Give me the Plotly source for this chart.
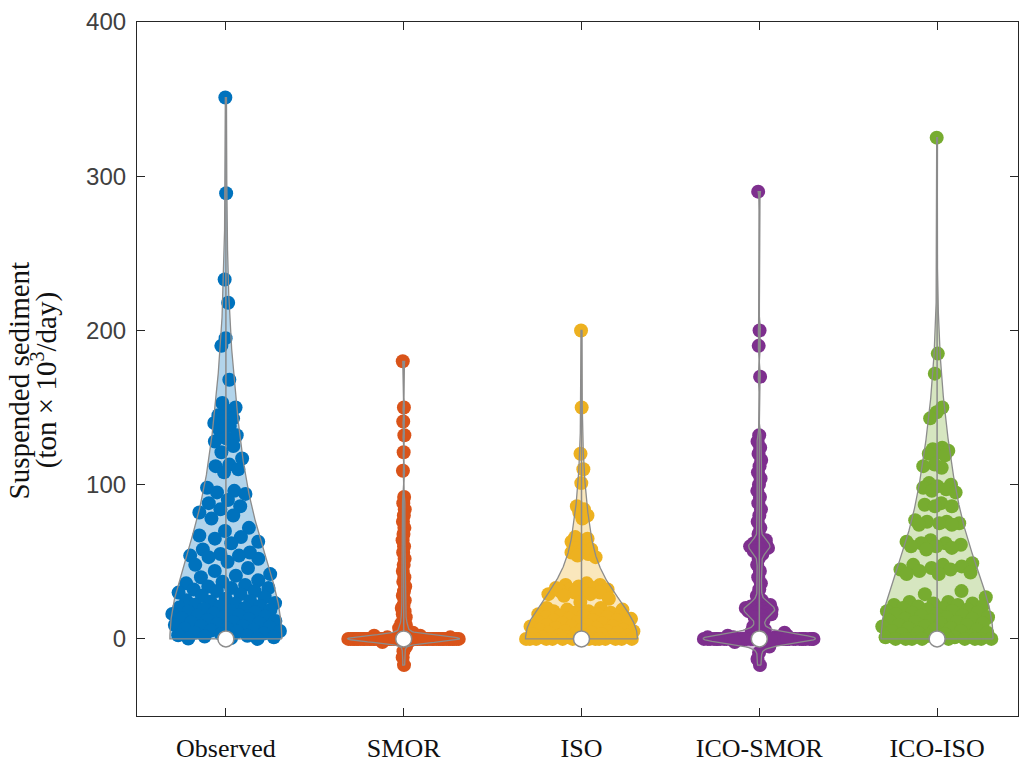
import numpy as np
import plotly.graph_objects as go

categories = ["Observed", "SMOR", "ISO", "ICO-SMOR", "ICO-ISO"]

observed = [351, 289, 233, 218, 195, 190, 168,
            153, 150, 148, 145, 143, 141, 140, 138, 135, 132, 130,
            128, 125, 121, 117, 113, 112, 110, 108,
            98, 96, 95, 94, 90, 88, 86, 84, 82, 80,
            78, 72, 70, 67, 66, 65, 63, 62,
            58, 56, 55, 54, 54, 53, 52, 50, 48, 46, 44, 42, 41,
            40, 38, 37, 36, 35, 34, 33, 33, 32, 31, 31, 30, 29, 28, 27, 26, 25,
            24.6, 24.1, 23.2, 22.8, 22.1, 21.4, 21.0, 20.3, 19.8, 19.5, 18.7, 18.2,
            17.6, 17.1, 16.5, 16.2, 15.4, 15.0, 14.3, 13.9, 13.2, 12.8, 12.1, 11.6,
            11.0, 10.7, 10.1, 9.6, 9.0, 8.4, 8.1, 7.5, 7.0, 6.6, 6.0, 5.4, 5.1, 4.6,
            4.0, 3.5, 3.1, 2.4, 2.0, 1.5, 1.1, 0.6, 0.2, 0]

smor = [180, 150, 141, 132, 121, 109, 92, 88, 84, 80, 76, 72, 68, 64, 60, 56, 52, 48,
        44, 40, 37, 34, 31, 28, 25, 22, 20, 18, 16, 14, 12, 10, 9, 8, 7, 6, 5, 4, 3, 2,
        2, 1, 1, 1, 0, 0, 0, 0, 0, 0, 0, 0, 0, 0, 0, 0, 0, 0, 0, 0, 0, 0, 0, 0, 0, 0,
        0, 0, 0, 0, 0, 0, 0, 0, 0, 0, 0, 0, 0, 0, 0, 0, 0, 0, 0, 0, 0, 0, 0, 0, 0, 0,
        0, 0, 0, 0, 0, 0, -1, -2, -5, -8, -12, -17]

iso = [200, 150, 120, 110, 101,
       86, 84, 82, 80, 78,
       66, 65, 64, 63,
       60, 59, 58, 57, 56, 55, 54, 53,
       36, 35, 35, 34, 33, 33, 32, 32, 31, 31, 30, 30, 29, 29, 28,
       26, 24,
       20, 20, 19, 19, 18, 18, 17, 17, 16, 16, 15, 15, 15, 14, 14, 13, 13, 12, 12,
       12, 11, 11, 10, 10, 10, 9, 9, 8, 8, 8, 7, 7, 6, 6, 6, 5, 5, 5, 4, 4, 4, 3,
       3, 3, 2, 2, 2, 1, 1, 1, 0, 0, 0, 0, 0, 0, 0, 0, 0, 0, 0, 0, 0, 0, 0]

ico_smor = [290, 200, 190, 170, 132, 128, 124, 120, 116, 112, 108, 104, 100, 96, 92, 88,
            84, 80, 76, 72, 68, 64, 63, 62, 61, 61, 60, 60, 59, 59, 58, 57, 55, 52, 48,
            44, 40, 36, 32, 28, 25, 23, 22, 21, 21, 20, 20, 20, 19, 19, 19, 18, 18, 17,
            17, 16, 15, 14, 12, 10, 8, 6, 5, 4, 3, 2, 2, 1, 1, 1, 1,
            0, 0, 0, 0, 0, 0, 0, 0, 0, 0, 0, 0, 0, 0, 0, 0, 0, 0, 0, 0, 0, 0, 0, 0, 0,
            0, 0, 0, 0, 0, 0, 0, 0, 0, 0, 0, 0, 0, 0, 0, 0, -2, -5, -9, -13, -17]

ico_iso = [325, 185, 172, 150, 147, 143,
           124, 123, 122, 121, 120, 119,
           113, 112, 111,
           101, 100, 99, 98, 97, 96, 95,
           88, 87, 86, 86,
           77, 76, 76, 75, 75, 74, 74,
           64, 63, 62, 62, 61, 60, 60, 59, 58,
           49, 48, 48, 47, 46, 45, 45, 44, 43, 42, 42,
           31, 29, 27,
           24, 24, 23, 23, 22, 22, 21, 21, 20, 20, 19, 19, 18, 18, 17, 17, 16, 16, 15,
           15, 14, 14, 13, 13, 12, 12, 11, 11, 10, 10, 9, 9, 8, 8, 7, 7, 6, 6, 5, 5,
           4, 4, 3, 3, 2, 2, 1, 1, 0, 0, 0, 0, 0, 0, 0, 0, 0, 0]

median_marks = [0, 0, 0, 0, 0]

series = [observed, smor, iso, ico_smor, ico_iso]
colors = ["#0072BD", "#D95319", "#EDB120", "#7E2F8E", "#77AC30"]
fills = ["rgba(0,114,189,0.3)", "rgba(217,83,25,0.3)", "rgba(237,177,32,0.3)",
         "rgba(126,47,142,0.3)", "rgba(119,172,48,0.3)"]
bandwidths = [45, 2, 22, 3, 40]

y_ticks = [0, 100, 200, 300, 400]

HW = 0.315          # max half width of a violin, in category units
GRAY = "#8c8c8c"
SERIF = "Liberation Serif, Times New Roman, serif"
GOLDEN = 0.6180339887


def density(vals, grid, bw):
    v = np.asarray(vals, float)
    g = np.asarray(grid, float)[:, None]
    d = np.exp(-0.5 * ((g - v[None, :]) / bw) ** 2).sum(axis=1)
    if v.min() >= 0:  # reflect at the lower bound for non-negative data
        d += np.exp(-0.5 * ((g + v[None, :]) / bw) ** 2).sum(axis=1)
    return d


fig = go.Figure()
outlines = []
for i, (vals, c, f, bw) in enumerate(zip(series, colors, fills, bandwidths)):
    pos = i + 1
    grid = np.linspace(min(vals), max(vals), 600)
    d = density(vals, grid, bw)
    dmax = d.max()
    half = HW * d / dmax
    xs = np.concatenate([pos + half, (pos - half)[::-1], [pos + half[0]]])
    ys = np.concatenate([grid, grid[::-1], [grid[0]]])
    fig.add_trace(go.Scatter(x=xs, y=ys, mode="lines", fill="toself", fillcolor=f,
                             line=dict(width=0, color="rgba(0,0,0,0)"),
                             hoverinfo="skip", showlegend=False))
    outlines.append((xs, ys))

    # points spread inside the local violin width
    pw = HW * density(vals, vals, bw) / dmax
    offs = np.array([2 * ((k * GOLDEN) % 1.0) - 1 for k in range(len(vals))])
    fig.add_trace(go.Scatter(x=pos + offs * pw, y=vals, mode="markers",
                             marker=dict(color=c, size=14, line=dict(width=0)),
                             hoverinfo="skip", showlegend=False))

# outlines on top of points
for xs, ys in outlines:
    fig.add_trace(go.Scatter(x=xs, y=ys, mode="lines", line=dict(color=GRAY, width=1.3),
                             hoverinfo="skip", showlegend=False))

# whisker lines
for i, vals in enumerate(series):
    fig.add_trace(go.Scatter(
        x=[i + 1, i + 1], y=[max(min(vals), 0), max(vals)], mode="lines",
        line=dict(color=GRAY, width=1.5), hoverinfo="skip", showlegend=False,
    ))

# white median circles
fig.add_trace(go.Scatter(
    x=[1, 2, 3, 4, 5], y=median_marks, mode="markers",
    marker=dict(color="white", size=16, line=dict(color=GRAY, width=1.5)),
    hoverinfo="skip", showlegend=False,
))

fig.update_layout(
    width=1019, height=763,
    margin=dict(l=137, r=0, t=22, b=41),
    paper_bgcolor="white", plot_bgcolor="white",
    xaxis=dict(
        range=[0.5, 5.455], tickvals=[1, 2, 3, 4, 5], ticktext=categories,
        showline=True, linecolor="#262626", linewidth=1.2, mirror="ticks",
        ticks="inside", ticklen=8, tickcolor="#262626", tickwidth=1.2,
        showgrid=False, zeroline=False, ticklabelstandoff=9,
        tickfont=dict(family=SERIF, size=26, color="#111111"),
    ),
    yaxis=dict(
        range=[-50, 400], tickvals=y_ticks,
        showline=True, linecolor="#262626", linewidth=1.2, mirror="ticks",
        ticks="inside", ticklen=8, tickcolor="#262626", tickwidth=1.2,
        showgrid=False, zeroline=False, ticklabelstandoff=5,
        tickfont=dict(family="Liberation Sans, Arial, sans-serif", size=24, color="#404040"),
    ),
    annotations=[
        dict(text="Suspended sediment",
             xref="paper", yref="paper", x=-0.1335, y=0.484,
             xanchor="center", yanchor="middle", textangle=-90, showarrow=False,
             font=dict(family=SERIF, size=29, color="#111111")),
        dict(text="(ton × 10<sup>3</sup>/day)",
             xref="paper", yref="paper", x=-0.1055, y=0.484,
             xanchor="center", yanchor="middle", textangle=-90, showarrow=False,
             font=dict(family=SERIF, size=29, color="#111111")),
    ],
)

fig.write_html("out.html")
